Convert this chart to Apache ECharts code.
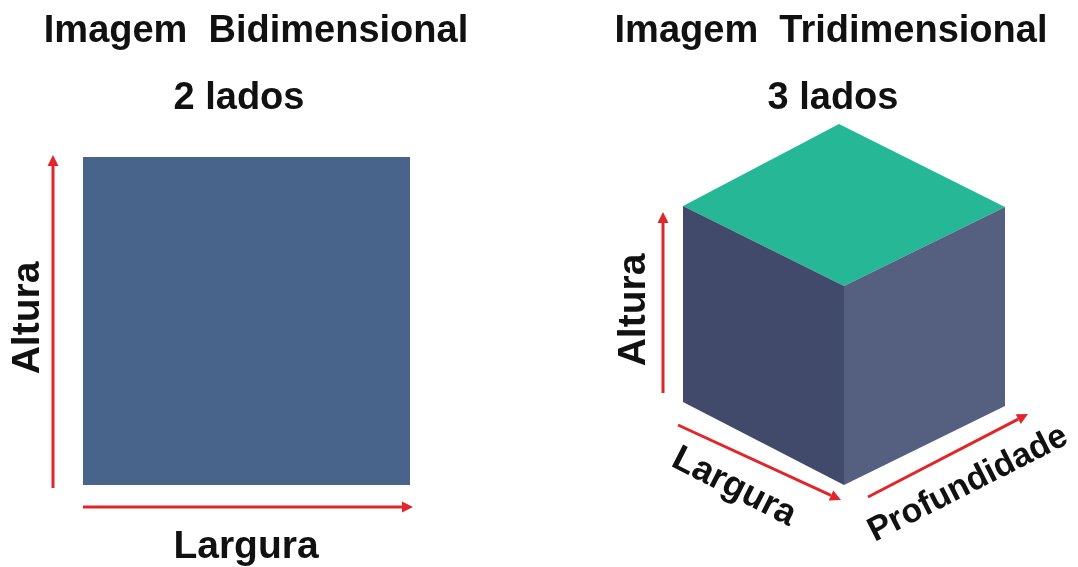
<!DOCTYPE html>
<html>
<head>
<meta charset="utf-8">
<script src="https://cdn.jsdelivr.net/npm/echarts@6/dist/echarts.min.js"></script>
<style>html,body{margin:0;padding:0;background:#fff}#c{width:1078px;height:567px}</style>
</head>
<body>
<div id="c"></div>
<script>
// Diagram geometry in data units (x: 0..1078, y: 0..567, y downward)
const squareFace = [[83,157],[410,157],[410,485],[83,485]];
const cubeTopFace = [[839,124],[1005,207],[844,286],[683,206]];
const cubeLeftFace = [[683,206],[844,286],[844,485],[683,402]];
const cubeRightFace = [[844,286],[1005,207],[1005,406],[844,485]];
const faceColors = ['#49648a', '#26b896', '#414a6b', '#555f80'];

const arrowStarts = [[53,488],[83,507],[663,393],[678,425],[868,497]];
const arrowEnds   = [[53,155],[413,507],[663,212],[841,500],[1028,414]];

const labelTexts = ['Imagem  Bidimensional','2 lados','Imagem  Tridimensional','3 lados','Altura','Largura','Altura','Largura','Profundidade'];
const labelX = [256, 239, 831, 833, 28, 246, 634, 734, 968];
const labelY = [32, 99, 32, 99, 318, 547, 310, 487, 484];
const labelAngle = [0, 0, 0, 0, 90, 0, 90, -27, 27];
const labelSize = [38, 38, 38, 38, 39, 39, 39, 36, 34];

const faces = [squareFace, cubeTopFace, cubeLeftFace, cubeRightFace];

const chart = echarts.init(document.getElementById('c'), null, {renderer: 'canvas'});
const FONT = '"Liberation Sans", Arial, sans-serif';

chart.setOption({
  animation: false,
  backgroundColor: '#ffffff',
  grid: {left: 0, right: 0, top: 0, bottom: 0},
  xAxis: {type: 'value', min: 0, max: 1078, show: false},
  yAxis: {type: 'value', min: 0, max: 567, inverse: true, show: false},
  series: [
    {
      type: 'custom',
      coordinateSystem: 'cartesian2d',
      data: faces.map((f, i) => [i]),
      renderItem: function (params, api) {
        const i = api.value(0);
        const pts = faces[i].map(p => api.coord(p));
        return {type: 'polygon', shape: {points: pts}, style: {fill: faceColors[i]}};
      }
    },
    {
      type: 'custom',
      coordinateSystem: 'cartesian2d',
      data: arrowStarts.map((s, i) => [s[0], s[1], arrowEnds[i][0], arrowEnds[i][1]]),
      renderItem: function (params, api) {
        const a = api.coord([api.value(0), api.value(1)]);
        const b = api.coord([api.value(2), api.value(3)]);
        const dx = b[0] - a[0], dy = b[1] - a[1];
        const len = Math.sqrt(dx*dx + dy*dy);
        const ux = dx/len, uy = dy/len;
        const hl = 11, hw = 5.5;
        const base = [b[0] - ux*hl, b[1] - uy*hl];
        return {
          type: 'group',
          children: [
            {type: 'line', shape: {x1: a[0], y1: a[1], x2: base[0], y2: base[1]},
             style: {stroke: '#e1262b', lineWidth: 3}},
            {type: 'polygon', shape: {points: [b, [base[0] - uy*hw, base[1] + ux*hw], [base[0] + uy*hw, base[1] - ux*hw]]},
             style: {fill: '#e1262b'}}
          ]
        };
      }
    },
    {
      type: 'custom',
      coordinateSystem: 'cartesian2d',
      data: labelTexts.map((t, i) => [labelX[i], labelY[i], i]),
      renderItem: function (params, api) {
        const i = api.value(2);
        const p = api.coord([api.value(0), api.value(1)]);
        return {
          type: 'text',
          x: p[0], y: p[1],
          rotation: labelAngle[i] * Math.PI / 180,
          style: {
            text: labelTexts[i],
            x: 0, y: 0,
            align: 'center', verticalAlign: 'middle',
            fill: '#111111',
            font: 'bold ' + labelSize[i] + 'px ' + FONT
          }
        };
      }
    }
  ]
});
</script>
</body>
</html>
